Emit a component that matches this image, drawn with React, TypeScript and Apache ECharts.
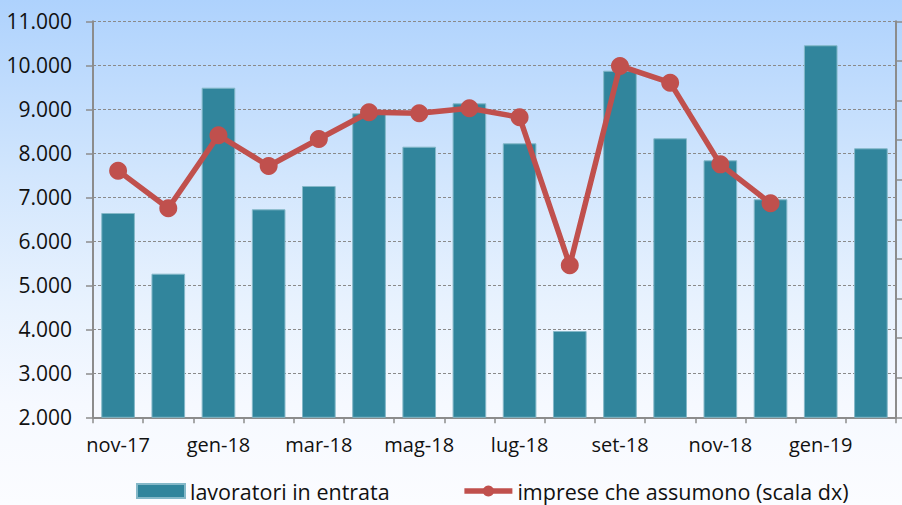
import React, { useEffect, useRef } from "react";
import * as echarts from "echarts";

const categories = [
  "nov-17", "dic-17", "gen-18", "feb-18", "mar-18", "apr-18", "mag-18", "giu-18",
  "lug-18", "ago-18", "set-18", "ott-18", "nov-18", "dic-18", "gen-19", "feb-19",
];
const lavoratori = [
  6643, 5264, 9491, 6727, 7257, 8909, 8150, 9136,
  8227, 3961, 9877, 8341, 7841, 6955, 10455, 8114,
];
const imprese: (number | null)[] = [
  5114, 4639, 5561, 5173, 5514, 5851, 5838, 5902,
  5788, 3919, 6436, 6225, 5194, 4702, null, null,
];
const leftTicks = { min: 2000, max: 11000, interval: 1000 };
const rightTicks = { min: 2000, max: 7000, interval: 500 };

const FONT = "'Open Sans', sans-serif";
const fmt = (v: number) => String(v).replace(/\B(?=(\d{3})+(?!\d))/g, ".");

export default function App() {
  const ref = useRef<HTMLDivElement>(null);
  useEffect(() => {
    if (!ref.current) return;
    const chart = echarts.init(ref.current, undefined, { renderer: "svg" });
    chart.setOption({
      animation: false,
      backgroundColor: "transparent",
      textStyle: { fontFamily: FONT },
      grid: { left: 93, right: 6, top: 21.3, bottom: 87.7, containLabel: false },
      legend: {
        top: 474,
        left: 131,
        padding: 5,
        itemWidth: 48,
        itemHeight: 14,
        itemGap: 72,
        textStyle: { fontFamily: FONT, fontSize: 21.5, color: "#111", lineHeight: 24 },
        data: [
          { name: "lavoratori in entrata", icon: "rect" },
          {
            name: "imprese che assumono (scala dx)",
            lineStyle: { width: 5.5, color: "#c0504d" },
            itemStyle: { color: "#c0504d" },
          },
        ],
      },
      xAxis: {
        type: "category",
        data: categories,
        boundaryGap: true,
        axisLine: { lineStyle: { color: "#8c8c8c", width: 2 } },
        axisTick: { show: true, interval: 0, length: 6, lineStyle: { color: "#8c8c8c", width: 1.5 } },
        axisLabel: { interval: 1, fontSize: 20, color: "#111", margin: 17, fontFamily: FONT },
        splitLine: { show: false },
      },
      yAxis: [
        {
          type: "value",
          min: leftTicks.min,
          max: leftTicks.max,
          interval: leftTicks.interval,
          position: "left",
          axisLine: { show: true, lineStyle: { color: "#8c8c8c", width: 2 } },
          axisTick: { show: true, length: 7, lineStyle: { color: "#8c8c8c", width: 1.5 } },
          axisLabel: { fontSize: 21, color: "#111", margin: 21, fontFamily: FONT, formatter: (v: number) => fmt(v) },
          splitLine: { show: true, lineStyle: { color: "#8a8a8a", type: [3, 2], width: 1 } },
        },
        {
          type: "value",
          min: rightTicks.min,
          max: rightTicks.max,
          interval: rightTicks.interval,
          position: "right",
          axisLine: { show: true, lineStyle: { color: "#8c8c8c", width: 2 } },
          axisTick: { show: true, length: 8, lineStyle: { color: "#8c8c8c", width: 1.5 } },
          axisLabel: { show: false },
          splitLine: { show: false },
        },
      ],
      series: [
        {
          name: "lavoratori in entrata",
          type: "bar",
          data: lavoratori,
          yAxisIndex: 0,
          barCategoryGap: "33%",
          itemStyle: { color: "#31859c", borderColor: "#84b8c8", borderWidth: 1 },
        },
        {
          name: "imprese che assumono (scala dx)",
          type: "line",
          data: imprese,
          yAxisIndex: 1,
          symbol: "circle",
          symbolSize: 18,
          lineStyle: { color: "#c0504d", width: 5.5 },
          itemStyle: { color: "#c0504d" },
          z: 5,
        },
      ],
    });
    return () => chart.dispose();
  }, []);
  return (
    <div
      style={{
        position: "fixed",
        left: 0,
        top: 0,
        width: 902,
        height: 505,
        background:
          "linear-gradient(to bottom, #aed2fd 0%, #d2e6fd 35%, #e8f2fe 60%, #f6f9ff 80%, #fbfcff 100%)",
      }}
    >
      <div ref={ref} style={{ width: 902, height: 505 }} />
    </div>
  );
}
